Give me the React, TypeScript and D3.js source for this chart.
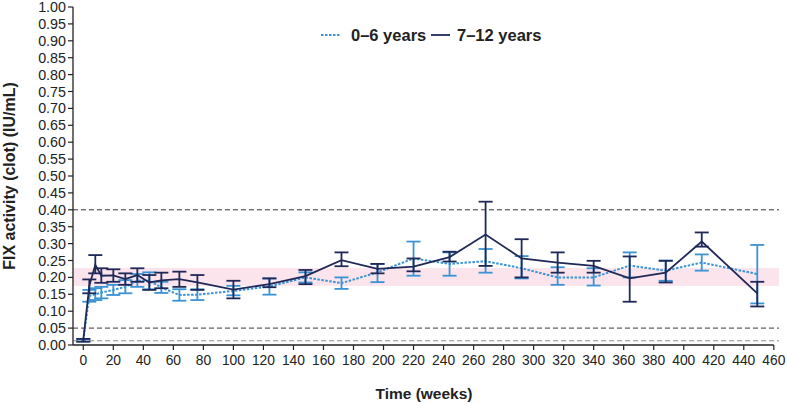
import React from "react";
import * as d3 from "d3";

const WEEKS = [0, 4, 8, 12, 20, 28, 36, 44, 52, 64, 76, 100, 124, 148, 172, 196, 220, 244, 268, 292, 316, 340, 364, 388, 412, 449];

// 0–6 years (light blue, dashed)
const YOUNG_MEAN = [0.015, 0.145, 0.15, 0.155, 0.163, 0.172, 0.19, 0.19, 0.17, 0.148, 0.149, 0.16, 0.173, 0.2, 0.183, 0.215, 0.256, 0.24, 0.248, 0.227, 0.2, 0.2, 0.235, 0.22, 0.244, 0.21];
const YOUNG_LO = [0.01, 0.128, 0.133, 0.138, 0.148, 0.153, 0.172, 0.165, 0.154, 0.131, 0.133, 0.147, 0.149, 0.185, 0.166, 0.186, 0.205, 0.205, 0.214, 0.197, 0.178, 0.176, 0.2, 0.19, 0.22, 0.123];
const YOUNG_HI = [0.018, 0.163, 0.168, 0.172, 0.178, 0.192, 0.21, 0.215, 0.187, 0.165, 0.165, 0.175, 0.197, 0.215, 0.2, 0.24, 0.306, 0.274, 0.284, 0.263, 0.23, 0.227, 0.274, 0.25, 0.268, 0.296];

// 7–12 years (navy, solid)
const OLD_MEAN = [0.015, 0.175, 0.237, 0.205, 0.206, 0.195, 0.207, 0.185, 0.191, 0.195, 0.185, 0.164, 0.18, 0.204, 0.251, 0.225, 0.232, 0.26, 0.327, 0.256, 0.244, 0.234, 0.197, 0.214, 0.306, 0.153];
const OLD_LO = [0.01, 0.153, 0.212, 0.184, 0.187, 0.178, 0.187, 0.163, 0.168, 0.172, 0.163, 0.138, 0.171, 0.18, 0.233, 0.212, 0.218, 0.247, 0.234, 0.2, 0.214, 0.214, 0.128, 0.185, 0.291, 0.114];
const OLD_HI = [0.018, 0.194, 0.266, 0.227, 0.224, 0.212, 0.227, 0.207, 0.214, 0.217, 0.207, 0.19, 0.197, 0.222, 0.274, 0.24, 0.256, 0.276, 0.424, 0.313, 0.274, 0.249, 0.262, 0.249, 0.333, 0.187];

const X_TICKS = d3.range(0, 461, 20);
const Y_TICKS = d3.range(0, 1.0001, 0.05);
const REF_LINES = [0.4, 0.05];
const LLOQ_LINE = [0.0125];
const BAND = [0.175, 0.228];

const SERIES_NAMES = ["0–6 years", "7–12 years"];

const BLUE = "#3a93d4";
const NAVY = "#1f2857";
const FONT = "'Liberation Sans', Arial, Helvetica, sans-serif";

export default function App() {
  const x = d3.scaleLinear().domain([0, 460]).range([83.3, 773.8]);
  const y = d3.scaleLinear().domain([0, 1]).range([345, 7]);
  const axisLeft = 73;
  const plotRight = 779;
  const capHalf = 7;

  const line = d3
    .line<number>()
    .x((_, i) => x(WEEKS[i]))
    .y((d) => y(d));

  const errBars = (lo: number[], hi: number[], color: string, key: string) =>
    WEEKS.map((w, i) => {
      const cx = x(w);
      return (
        <g key={key + i} stroke={color} strokeWidth={1.8} fill="none">
          <line x1={cx} x2={cx} y1={y(lo[i])} y2={y(hi[i])} />
          <line x1={cx - capHalf} x2={cx + capHalf} y1={y(lo[i])} y2={y(lo[i])} />
          <line x1={cx - capHalf} x2={cx + capHalf} y1={y(hi[i])} y2={y(hi[i])} />
        </g>
      );
    });

  return (
    <svg
      width={787}
      height={406}
      style={{ position: "absolute", left: 0, top: 0, background: "#fff" }}
      fontFamily={FONT}
    >
      {/* target band */}
      <rect
        x={axisLeft}
        y={y(BAND[1])}
        width={plotRight - axisLeft}
        height={y(BAND[0]) - y(BAND[1])}
        fill="#fbe4ec"
      />
      {/* reference lines */}
      {REF_LINES.map((v) => (
        <line key={v} x1={axisLeft} x2={plotRight} y1={y(v)} y2={y(v)} stroke="#3a3a3a" strokeWidth={1} strokeDasharray="5,3" />
      ))}
      {LLOQ_LINE.map((v) => (
        <line key={v} x1={axisLeft} x2={plotRight} y1={y(v)} y2={y(v)} stroke="#8a8a8a" strokeWidth={1} strokeDasharray="5,3" />
      ))}

      {/* y axis */}
      <line x1={axisLeft} x2={axisLeft} y1={y(1)} y2={y(0)} stroke="#222" strokeWidth={1.3} />
      {Y_TICKS.map((t) => (
        <g key={t.toFixed(2)}>
          <line x1={axisLeft - 5} x2={axisLeft} y1={y(t)} y2={y(t)} stroke="#222" strokeWidth={1.2} />
          <text x={axisLeft - 7} y={y(t)} dy="0.35em" textAnchor="end" fontSize={14.3} fill="#222">
            {t.toFixed(2)}
          </text>
        </g>
      ))}

      {/* x axis */}
      <line x1={axisLeft} x2={x(460)} y1={y(0)} y2={y(0)} stroke="#222" strokeWidth={1.3} />
      {X_TICKS.map((t) => (
        <g key={t}>
          <line x1={x(t)} x2={x(t)} y1={y(0)} y2={y(0) + 5} stroke="#222" strokeWidth={1.2} />
          <text x={x(t)} y={y(0) + 19.5} textAnchor="middle" fontSize={13.8} fill="#222">
            {t}
          </text>
        </g>
      ))}

      {/* axis titles */}
      <text x={424} y={399} textAnchor="middle" fontSize={15.5} fontWeight="bold" fill="#222">
        Time (weeks)
      </text>
      <text
        transform={`translate(15,${y(0.5)}) rotate(-90)`}
        textAnchor="middle"
        fontSize={16}
        fontWeight="bold"
        fill="#222"
      >
        FIX activity (clot) (IU/mL)
      </text>

      {/* series: 0-6 years */}
      {errBars(YOUNG_LO, YOUNG_HI, BLUE, "y")}
      <path d={line(YOUNG_MEAN) || ""} fill="none" stroke={BLUE} strokeWidth={2} strokeDasharray="2.5,1.5" />

      {/* series: 7-12 years */}
      {errBars(OLD_LO, OLD_HI, NAVY, "o")}
      <path d={line(OLD_MEAN) || ""} fill="none" stroke={NAVY} strokeWidth={1.8} />

      {/* legend */}
      <g>
        <line x1={321} x2={340} y1={35} y2={35} stroke={BLUE} strokeWidth={2} strokeDasharray="2.5,1.5" />
        <text x={351} y={35} dy="0.35em" fontSize={16.5} fontWeight="bold" fill="#222">
          {SERIES_NAMES[0]}
        </text>
        <line x1={431} x2={450} y1={35} y2={35} stroke={NAVY} strokeWidth={1.8} />
        <text x={457} y={35} dy="0.35em" fontSize={16.5} fontWeight="bold" fill="#222">
          {SERIES_NAMES[1]}
        </text>
      </g>
    </svg>
  );
}
